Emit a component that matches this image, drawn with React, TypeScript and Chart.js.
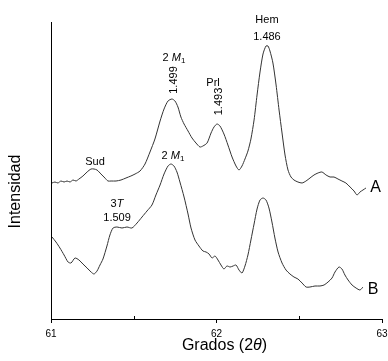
import React, { useEffect, useRef } from 'react';
import { Chart, registerables } from 'chart.js';
Chart.register(...registerables);

// Pattern A (upper trace)
const twoThetaA = [61.006, 61.024, 61.042, 61.06, 61.079, 61.097, 61.115, 61.133, 61.151, 61.169, 61.193, 61.218, 61.242, 61.26, 61.278, 61.302, 61.326, 61.344, 61.363, 61.393, 61.423, 61.453, 61.483, 61.508, 61.538, 61.568, 61.598, 61.628, 61.659, 61.683, 61.707, 61.731, 61.749, 61.767, 61.785, 61.804, 61.828, 61.852, 61.876, 61.9, 61.918, 61.943, 61.967, 61.985, 62.003, 62.021, 62.045, 62.069, 62.094, 62.118, 62.136, 62.154, 62.172, 62.19, 62.208, 62.227, 62.245, 62.263, 62.281, 62.299, 62.311, 62.323, 62.341, 62.36, 62.378, 62.396, 62.414, 62.432, 62.45, 62.468, 62.492, 62.517, 62.541, 62.565, 62.589, 62.613, 62.637, 62.662, 62.686, 62.71, 62.734, 62.758, 62.782, 62.807, 62.831, 62.849, 62.867, 62.885, 62.903];
const intensityA = [136, 137, 136, 138, 137, 138, 137, 139, 138, 140, 143, 147, 150, 150, 149, 145, 141, 138, 138, 138, 139, 141, 143, 145, 148, 155, 167, 180, 198, 210, 218, 220, 218, 212, 202, 195, 188, 181, 176, 172, 173, 176, 186, 192, 195, 193, 185, 174, 162, 153, 149, 153, 160, 168, 180, 199, 224, 247, 265, 273, 273, 268, 256, 234, 209, 186, 164, 149, 142, 139, 137, 136, 138, 141, 144, 146, 147, 144, 142, 142, 140, 138, 136, 132, 128, 124, 127, 129, 131];

// Pattern B (lower trace)
const twoThetaB = [61.006, 61.03, 61.054, 61.079, 61.103, 61.121, 61.145, 61.169, 61.193, 61.218, 61.242, 61.26, 61.278, 61.296, 61.314, 61.338, 61.356, 61.375, 61.399, 61.429, 61.459, 61.489, 61.52, 61.55, 61.58, 61.61, 61.634, 61.659, 61.683, 61.707, 61.725, 61.743, 61.761, 61.779, 61.804, 61.828, 61.846, 61.87, 61.894, 61.918, 61.937, 61.955, 61.973, 61.991, 62.009, 62.027, 62.045, 62.063, 62.082, 62.1, 62.118, 62.136, 62.154, 62.172, 62.19, 62.208, 62.227, 62.245, 62.263, 62.281, 62.299, 62.317, 62.335, 62.353, 62.372, 62.396, 62.42, 62.444, 62.468, 62.492, 62.517, 62.541, 62.565, 62.595, 62.625, 62.65, 62.674, 62.698, 62.716, 62.74, 62.758, 62.776, 62.795, 62.819, 62.843, 62.867, 62.885];
const intensityB = [82, 77, 71, 64, 57, 56, 61, 59, 55, 51, 47, 45, 48, 54, 60, 73, 84, 91, 92, 91, 92, 91, 96, 102, 108, 114, 124, 134, 145, 153, 155, 153, 147, 137, 122, 105, 91, 79, 73, 68, 67, 65, 61, 63, 59, 54, 50, 53, 52, 53, 54, 49, 46, 53, 64, 79, 95, 110, 119, 121, 119, 111, 97, 81, 67, 56, 49, 45, 42, 40, 36, 32, 32, 33, 33, 34, 37, 41, 47, 52, 50, 44, 39, 34, 31, 29, 32];

const xMin = 61;
const xMax = 63;
const xMajorTicks = [61, 62, 63];
const xMinorTicks = [61.5, 62.5];
const yMin = 0;
const yMax = 297;

const FONT = '"Liberation Sans", Arial, Helvetica, sans-serif';
const LINE_COLOR = '#333333';

type Part = { t: string; italic?: boolean; size?: number; dy?: number };
type Label = { x: number; y: number; parts: Part[]; rotate?: boolean; size?: number };

// anchors: x in degrees (centre), y in intensity units (baseline)
const peakLabels: Label[] = [
  { x: 62.305, y: 296, parts: [{ t: 'Hem' }] },
  { x: 62.305, y: 279, parts: [{ t: '1.486' }] },
  { x: 61.266, y: 154, parts: [{ t: 'Sud' }] },
  { x: 61.979, y: 233, parts: [{ t: 'Prl' }] },
  { x: 62.033, y: 217.5, parts: [{ t: '1.493' }], rotate: true },
  { x: 61.761, y: 239, parts: [{ t: '1.499' }], rotate: true },
  { x: 61.743, y: 258, parts: [{ t: '2 ' }, { t: 'M', italic: true }, { t: '1', size: 8, dy: 2 }] },
  { x: 61.737, y: 160, parts: [{ t: '2 ' }, { t: 'M', italic: true }, { t: '1', size: 8, dy: 2 }] },
  { x: 61.399, y: 112, parts: [{ t: '3' }, { t: 'T', italic: true }] },
  { x: 61.399, y: 98, parts: [{ t: '1.509' }] },
  { x: 62.961, y: 127, parts: [{ t: 'A' }], size: 16 },
  { x: 62.946, y: 25, parts: [{ t: 'B' }], size: 16 },
];

function fontOf(p: Part, base: number) {
  return `${p.italic ? 'italic ' : ''}${p.size ?? base}px ${FONT}`;
}

function drawParts(ctx: CanvasRenderingContext2D, parts: Part[], base: number) {
  let w = 0;
  for (const p of parts) {
    ctx.font = fontOf(p, base);
    w += ctx.measureText(p.t).width;
  }
  let x = -w / 2;
  for (const p of parts) {
    ctx.font = fontOf(p, base);
    ctx.fillText(p.t, x, p.dy ?? 0);
    x += ctx.measureText(p.t).width;
  }
}

const annotationPlugin = {
  id: 'xrdAnnotations',
  afterDraw(chart: any) {
    const ctx: CanvasRenderingContext2D = chart.ctx;
    const xs = chart.scales.x;
    const ys = chart.scales.y;
    const area = chart.chartArea;
    ctx.save();
    // inward minor ticks
    ctx.strokeStyle = '#000';
    ctx.lineWidth = 1;
    for (const v of xMinorTicks) {
      const px = Math.round(xs.getPixelForValue(v)) + 0.5;
      ctx.beginPath();
      ctx.moveTo(px, area.bottom);
      ctx.lineTo(px, area.bottom - 3);
      ctx.stroke();
    }
    ctx.fillStyle = '#000';
    ctx.textBaseline = 'alphabetic';
    ctx.textAlign = 'left';
    for (const l of peakLabels) {
      const px = xs.getPixelForValue(l.x);
      const py = ys.getPixelForValue(l.y);
      ctx.save();
      ctx.translate(px, py);
      if (l.rotate) ctx.rotate(-Math.PI / 2);
      drawParts(ctx, l.parts, l.size ?? 11);
      ctx.restore();
    }
    // axis titles
    ctx.save();
    ctx.translate(area.left - 31, (area.top + area.bottom) / 2 + 21);
    ctx.rotate(-Math.PI / 2);
    drawParts(ctx, [{ t: 'Intensidad' }], 16);
    ctx.restore();
    ctx.save();
    ctx.translate((area.left + area.right) / 2 + 8, area.bottom + 31);
    drawParts(ctx, [{ t: 'Grados (2' }, { t: 'θ', italic: true }, { t: ')' }], 16);
    ctx.restore();
    ctx.restore();
  },
};

export default function App() {
  const ref = useRef<HTMLCanvasElement | null>(null);
  useEffect(() => {
    if (!ref.current) return;
    const chart = new Chart(ref.current, {
      type: 'line',
      data: {
        datasets: [
          {
            label: 'A',
            data: twoThetaA.map((x, i) => ({ x, y: intensityA[i] })),
            borderColor: LINE_COLOR,
            borderWidth: 1,
            pointRadius: 0,
            tension: 0.25,
            fill: false,
          },
          {
            label: 'B',
            data: twoThetaB.map((x, i) => ({ x, y: intensityB[i] })),
            borderColor: LINE_COLOR,
            borderWidth: 1,
            pointRadius: 0,
            tension: 0.25,
            fill: false,
          },
        ],
      },
      options: {
        animation: false,
        responsive: false,
        devicePixelRatio: 1,
        layout: { padding: { top: 22, right: 6, left: 0, bottom: 0 } },
        plugins: { legend: { display: false }, tooltip: { enabled: false }, title: { display: false } },
        scales: {
          x: {
            type: 'linear',
            min: xMin,
            max: xMax,
            afterBuildTicks: (s: any) => {
              s.ticks = xMajorTicks.map((v) => ({ value: v }));
            },
            afterFit: (s: any) => {
              s.height = 42;
              s.paddingLeft = 0;
              s.paddingRight = 0;
            },
            ticks: {
              autoSkip: false,
              maxRotation: 0,
              padding: 5,
              color: '#000',
              font: { family: FONT, size: 10 },
              callback: (v: any) => String(v),
            },
            grid: { drawOnChartArea: false, drawTicks: true, tickLength: 4, tickColor: '#000' },
            border: { display: true, color: '#000', width: 1 },
          },
          y: {
            type: 'linear',
            min: yMin,
            max: yMax,
            afterFit: (s: any) => {
              s.width = 51;
              s.paddingTop = 0;
              s.paddingBottom = 0;
            },
            ticks: { display: false },
            grid: { display: false, drawTicks: false },
            border: { display: true, color: '#000', width: 1 },
          },
        },
      },
      plugins: [annotationPlugin],
    });
    return () => chart.destroy();
  }, []);
  return (
    <div style={{ position: 'fixed', left: 0, top: 0, width: 388, height: 361, background: '#fff' }}>
      <canvas ref={ref} width={388} height={361} style={{ width: 388, height: 361, display: 'block' }} />
    </div>
  );
}
